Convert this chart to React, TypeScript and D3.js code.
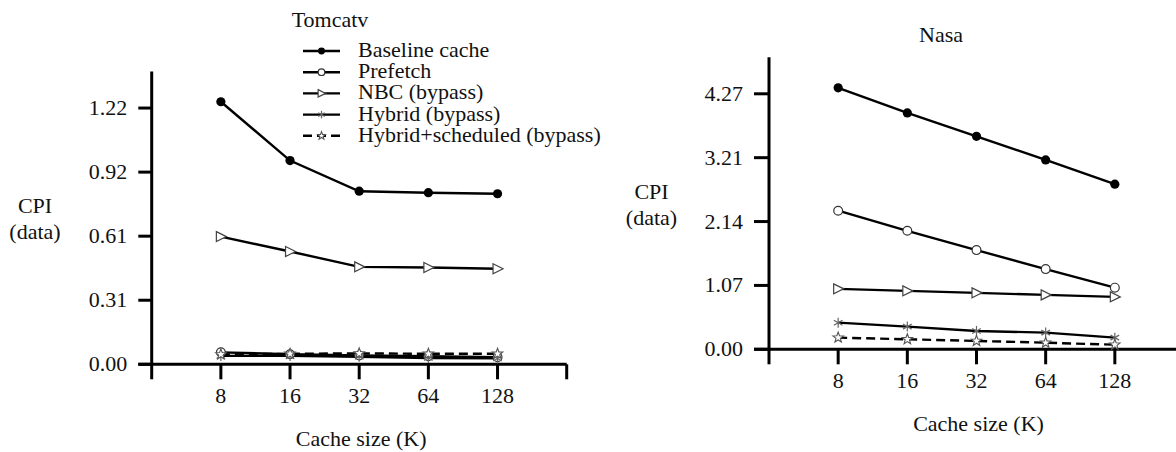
import React from "react";
import * as d3 from "d3";

// Cache sizes (K) on the x axis
const cacheSizes = [8, 16, 32, 64, 128];

const seriesNames = [
  "Baseline cache",
  "Prefetch",
  "NBC (bypass)",
  "Hybrid (bypass)",
  "Hybrid+scheduled (bypass)",
];

// Tomcatv CPI (data)
const tomcatvBaseline = [1.25, 0.97, 0.824, 0.817, 0.812];
const tomcatvPrefetch = [0.057, 0.048, 0.042, 0.038, 0.034];
const tomcatvNBC = [0.608, 0.537, 0.464, 0.461, 0.455];
const tomcatvHybrid = [0.04, 0.04, 0.036, 0.03, 0.028];
const tomcatvHybridSched = [0.047, 0.05, 0.052, 0.05, 0.05];

// Nasa CPI (data)
const nasaBaseline = [4.37, 3.95, 3.56, 3.165, 2.76];
const nasaPrefetch = [2.316, 1.98, 1.658, 1.34, 1.03];
const nasaNBC = [1.01, 0.976, 0.943, 0.909, 0.876];
const nasaHybrid = [0.445, 0.379, 0.307, 0.279, 0.195];
const nasaHybridSched = [0.195, 0.167, 0.14, 0.11, 0.077];

const tomcatvTicks = [0, 0.305, 0.61, 0.915, 1.22];
const tomcatvTickLabels = ["0.00", "0.31", "0.61", "0.92", "1.22"];
const nasaTicks = [0, 1.0675, 2.135, 3.2025, 4.27];
const nasaTickLabels = ["0.00", "1.07", "2.14", "3.21", "4.27"];

const ts = { fontFamily: '"Liberation Serif"', fontSize: 22 };

type MarkerKind = "filled" | "open" | "tri" | "asterisk" | "star";
const markerKinds: MarkerKind[] = ["filled", "open", "tri", "asterisk", "star"];
const dashes = [null, null, null, null, "9,5"];

function Label(props: any) {
  const { children, ...rest } = props;
  return (
    <text {...rest} fontFamily="Liberation Serif" style={ts} fill="#111">
      {children}
    </text>
  );
}

function Marker({ kind, x, y, s = 1 }: { kind: MarkerKind; x: number; y: number; s?: number }) {
  if (kind === "filled") return <circle cx={x} cy={y} r={4.6 * s} fill="#000" />;
  if (kind === "open")
    return <circle cx={x} cy={y} r={4.4 * s} fill="#fff" stroke="#333" strokeWidth={1.2} />;
  if (kind === "tri")
    return (
      <polygon
        points={`${x - 4.5 * s},${y - 5 * s} ${x + 5.5 * s},${y} ${x - 4.5 * s},${y + 5 * s}`}
        fill="#fff"
        stroke="#444"
        strokeWidth={1.2}
      />
    );
  if (kind === "asterisk") {
    const r = 5 * s;
    const angles = [90, 30, 150];
    return (
      <g stroke="#666" strokeWidth={1.2}>
        {angles.map((a) => {
          const rad = (a * Math.PI) / 180;
          return (
            <line
              key={a}
              x1={x - r * Math.cos(rad)}
              y1={y - r * Math.sin(rad)}
              x2={x + r * Math.cos(rad)}
              y2={y + r * Math.sin(rad)}
            />
          );
        })}
      </g>
    );
  }
  // five-point star outline
  const pts: string[] = [];
  for (let i = 0; i < 10; i++) {
    const rr = (i % 2 === 0 ? 5.5 : 2.3) * s;
    const a = -Math.PI / 2 + (i * Math.PI) / 5;
    pts.push(`${x + rr * Math.cos(a)},${y + rr * Math.sin(a)}`);
  }
  return <polygon points={pts.join(" ")} fill="#fff" stroke="#555" strokeWidth={1.1} />;
}

interface PanelProps {
  title: string;
  titleX: number;
  titleY: number;
  axisX: number;
  axisY: number;
  topY: number;
  yMax: number;
  ticks: number[];
  tickLabels: string[];
  tickLen: number;
  series: number[][];
  cpiX: number;
  cpiY: number;
}

function Panel(p: PanelProps) {
  const x = d3.scaleLog().base(2).domain([4, 256]).range([p.axisX, p.axisX + 415]);
  const y = d3.scaleLinear().domain([0, p.yMax]).range([p.axisY, p.topY]);
  const line = d3
    .line<number>()
    .x((_, i) => x(cacheSizes[i]))
    .y((v) => y(v));
  const xTicks = [4, 8, 16, 32, 64, 128, 256];
  return (
    <g>
      <Label x={p.titleX} y={p.titleY} textAnchor="middle">{p.title}</Label>
      {/* y label */}
      <Label x={p.cpiX} y={p.cpiY} textAnchor="middle">CPI</Label>
      <Label x={p.cpiX} y={p.cpiY + 26} textAnchor="middle">(data)</Label>
      {/* axes */}
      <g stroke="#000" strokeWidth={3} fill="none">
        <line x1={p.axisX} y1={p.topY} x2={p.axisX} y2={p.axisY} />
        <line x1={p.axisX - p.tickLen} y1={p.axisY} x2={p.axisX + 415} y2={p.axisY} />
        {xTicks.map((t) => (
          <line key={t} x1={x(t)} y1={p.axisY} x2={x(t)} y2={p.axisY + 15} />
        ))}
        {p.ticks.map((t) => (
          <line key={t} x1={p.axisX - p.tickLen} y1={y(t)} x2={p.axisX} y2={y(t)} />
        ))}
      </g>
      {p.ticks.map((t, i) => (
        <Label key={t} x={p.axisX - p.tickLen - 11} y={y(t) + 7} textAnchor="end">
          {p.tickLabels[i]}
        </Label>
      ))}
      {cacheSizes.map((c) => (
        <Label key={c} x={x(c)} y={p.axisY + 39} textAnchor="middle">{c}</Label>
      ))}
      <Label x={x(32) + 2} y={p.axisY + 82} textAnchor="middle">Cache size (K)</Label>
      {/* series lines */}
      {p.series.map((s, i) => (
        <path
          key={i}
          d={line(s) || ""}
          fill="none"
          stroke="#000"
          strokeWidth={2.4}
          strokeDasharray={dashes[i] || undefined}
        />
      ))}
      {p.series.map((s, i) =>
        s.map((v, j) => (
          <Marker key={`${i}-${j}`} kind={markerKinds[i]} x={x(cacheSizes[j])} y={y(v)} />
        ))
      )}
    </g>
  );
}

function Legend({ x0, y0 }: { x0: number; y0: number }) {
  return (
    <g>
      {seriesNames.map((name, i) => {
        const yy = y0 + i * 21.2;
        return (
          <g key={name}>
            <line
              x1={x0}
              x2={x0 + 37}
              y1={yy}
              y2={yy}
              stroke="#000"
              strokeWidth={2.4}
              strokeDasharray={dashes[i] || undefined}
            />
            <Marker kind={markerKinds[i]} x={x0 + 18.5} y={yy} s={0.75} />
            <Label x={x0 + 55} y={yy + 6}>{name}</Label>
          </g>
        );
      })}
    </g>
  );
}

export default function App() {
  return (
    <svg
      width={1176}
      height={452}
      style={{ position: "absolute", left: 0, top: 0, background: "#fff" }}
    >
      <rect width={1176} height={452} fill="#fff" />
      <Panel
        title="Tomcatv"
        titleX={330}
        titleY={26.5}
        axisX={151.7}
        axisY={364.3}
        topY={71.5}
        yMax={1.394}
        ticks={tomcatvTicks}
        tickLabels={tomcatvTickLabels}
        tickLen={13.4}
        series={[tomcatvBaseline, tomcatvPrefetch, tomcatvNBC, tomcatvHybrid, tomcatvHybridSched]}
        cpiX={35}
        cpiY={213}
      />
      <Panel
        title="Nasa"
        titleX={941}
        titleY={41.7}
        axisX={769}
        axisY={349.3}
        topY={57.3}
        yMax={4.88}
        ticks={nasaTicks}
        tickLabels={nasaTickLabels}
        tickLen={15}
        series={[nasaBaseline, nasaPrefetch, nasaNBC, nasaHybrid, nasaHybridSched]}
        cpiX={651.5}
        cpiY={199}
      />
      <Legend x0={303} y0={51} />
    </svg>
  );
}
